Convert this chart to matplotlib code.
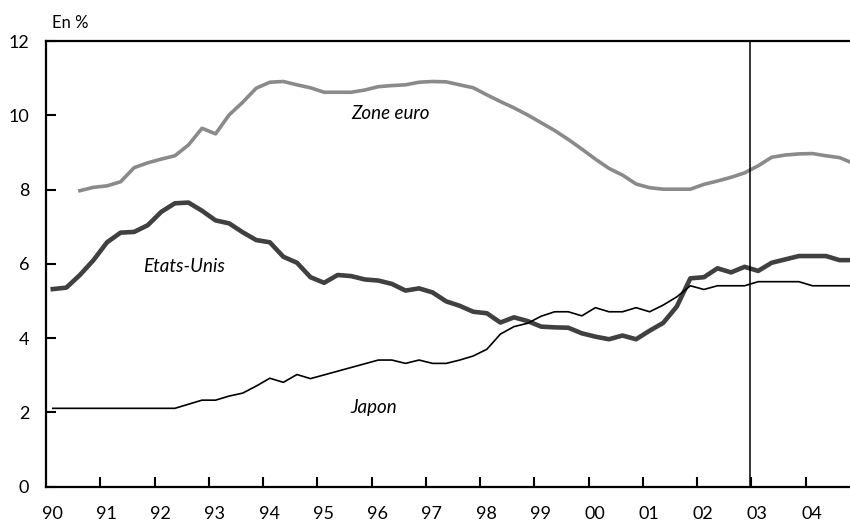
import matplotlib
matplotlib.use("Agg")
import matplotlib.pyplot as plt
import numpy as np

plt.rcParams['font.family'] = ['Lato', 'DejaVu Sans']

# Quarterly data, 1990Q1 .. 2004Q4 (points at mid-quarter)
start_year = 1990
n_quarters = 60

zone_euro = [None, None, 7.97, 8.06, 8.10, 8.21, 8.59, 8.72, 8.82, 8.91,
             9.20, 9.65, 9.50, 10.01, 10.35, 10.73, 10.89, 10.91, 10.82, 10.74,
             10.62, 10.62, 10.62, 10.68, 10.77, 10.80, 10.82, 10.89, 10.91, 10.90,
             10.82, 10.74, 10.55, 10.37, 10.20, 10.01, 9.80, 9.59, 9.35, 9.09,
             8.82, 8.57, 8.39, 8.15, 8.05, 8.01, 8.01, 8.01, 8.14, 8.23,
             8.33, 8.45, 8.64, 8.87, 8.93, 8.96, 8.97, 8.91, 8.86, 8.71]

etats_unis = [5.32, 5.36, 5.70, 6.10, 6.58, 6.84, 6.86, 7.04, 7.40, 7.63,
              7.65, 7.43, 7.17, 7.09, 6.85, 6.64, 6.58, 6.19, 6.03, 5.64,
              5.49, 5.70, 5.67, 5.58, 5.55, 5.46, 5.28, 5.34, 5.23, 4.99,
              4.87, 4.71, 4.67, 4.42, 4.56, 4.46, 4.31, 4.29, 4.28, 4.13,
              4.04, 3.97, 4.07, 3.97, 4.20, 4.41, 4.85, 5.61, 5.64, 5.88,
              5.77, 5.92, 5.81, 6.03, 6.12, 6.21, 6.21, 6.21, 6.10, 6.10]

japon = [2.11, 2.11, 2.11, 2.11, 2.11, 2.11, 2.11, 2.11, 2.11, 2.11,
         2.22, 2.33, 2.33, 2.44, 2.52, 2.71, 2.92, 2.81, 3.02, 2.91,
         3.01, 3.11, 3.21, 3.31, 3.41, 3.41, 3.32, 3.41, 3.32, 3.32,
         3.41, 3.52, 3.70, 4.11, 4.31, 4.40, 4.59, 4.71, 4.71, 4.60,
         4.82, 4.71, 4.71, 4.82, 4.71, 4.89, 5.11, 5.41, 5.31, 5.41,
         5.41, 5.41, 5.52, 5.52, 5.52, 5.52, 5.41, 5.41, 5.41, 5.41]

year_labels = ['90', '91', '92', '93', '94', '95', '96', '97', '98', '99',
               '00', '01', '02', '03', '04']
y_ticks = [0, 2, 4, 6, 8, 10, 12]
separator_year = 2002.97

t = start_year + 0.125 + 0.25 * np.arange(n_quarters)

def to_arr(v):
    return np.array([np.nan if x is None else x for x in v], dtype=float)

fig = plt.figure(figsize=(8.5, 5.23), dpi=100)
ax = fig.add_axes([46/850, 1 - 486.7/523, 1 - 46/850, (486.7 - 41)/523])

ax.plot(t, to_arr(zone_euro), color='#8a8a8a', lw=2.6, solid_joinstyle='round')
ax.plot(t, to_arr(etats_unis), color='#404040', lw=3.3, solid_joinstyle='round')
ax.plot(t, to_arr(japon), color='black', lw=1.2)

ax.axvline(separator_year, color='black', lw=1.1)

ax.set_xlim(1990, 1990 + 804/54.26)
ax.set_ylim(0, 12)

years = np.arange(1990, 1990 + len(year_labels))
ax.set_xticks(years[1:])
ax.set_xticklabels([])
ax.set_xticks(years + 0.11, minor=True)
ax.set_xticklabels(year_labels, minor=True)
ax.tick_params(axis='x', which='major', direction='in', length=7, width=1.5)
ax.tick_params(axis='x', which='minor', length=0, pad=14, labelsize=13)

ax.set_yticks(y_ticks)
ax.set_yticklabels([str(v) for v in y_ticks])
ax.tick_params(axis='y', direction='in', length=7, width=1.5, pad=12, labelsize=13)

for s in ['left', 'bottom', 'top']:
    ax.spines[s].set_linewidth(1.6)
ax.spines['right'].set_visible(False)

ax.text(1996.34, 10.05, 'Zone euro', style='italic', fontsize=13.5,
        ha='center', va='center')
ax.text(1992.54, 5.93, 'Etats-Unis', style='italic', fontsize=13.5,
        ha='center', va='center')
ax.text(1996.04, 2.13, 'Japon', style='italic', fontsize=13.5,
        ha='center', va='center')

fig.text(70/850, 1 - 23/523, 'En %', fontsize=12, ha='center', va='center')

fig.savefig('out.png', dpi=100)
